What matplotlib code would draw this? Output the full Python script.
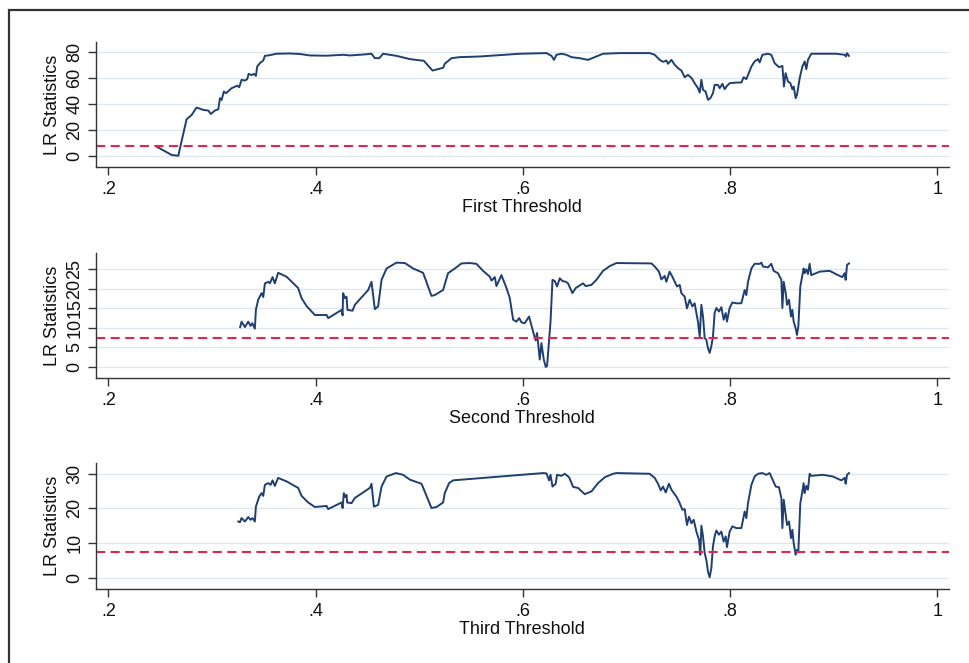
import matplotlib
matplotlib.use("Agg")
import matplotlib.pyplot as plt
from matplotlib.patches import Rectangle

plt.rcParams["font.family"] = ["Liberation Sans", "DejaVu Sans"]

# LR statistic for each candidate threshold
x1 = [0.2465, 0.261, 0.2674, 0.2754, 0.2803, 0.285, 0.2915, 0.2963, 0.2989, 0.3027,
      0.306, 0.3076, 0.3092, 0.3114, 0.3134, 0.3188, 0.3243, 0.3262, 0.3285, 0.3317,
      0.3339, 0.3353, 0.3382, 0.3404, 0.3423, 0.3436, 0.3462, 0.3494, 0.351, 0.3542,
      0.3575, 0.3623, 0.3751, 0.3848, 0.3944, 0.4105, 0.4265, 0.433, 0.4458, 0.4539,
      0.4571, 0.4613, 0.4651, 0.478, 0.4909, 0.5044, 0.5128, 0.523, 0.5246, 0.5311,
      0.5391, 0.5584, 0.578, 0.597, 0.6228, 0.6276, 0.6301, 0.6324, 0.6372, 0.642,
      0.6469, 0.6549, 0.6629, 0.6694, 0.6774, 0.6935, 0.7224, 0.7273, 0.7321, 0.7353,
      0.7386, 0.7401, 0.7434, 0.7466, 0.7498, 0.753, 0.7562, 0.7594, 0.763, 0.7658,
      0.769, 0.7707, 0.7723, 0.7739, 0.7764, 0.7787, 0.781, 0.7835, 0.7851, 0.7883,
      0.79, 0.7926, 0.7948, 0.797, 0.7996, 0.8061, 0.8109, 0.8131, 0.8157, 0.8206,
      0.8237, 0.827, 0.8286, 0.8312, 0.8366, 0.8398, 0.843, 0.8472, 0.8505, 0.852,
      0.8536, 0.8559, 0.8582, 0.8601, 0.8614, 0.8633, 0.8646, 0.8672, 0.8698, 0.872,
      0.8736, 0.8752, 0.8784, 0.9026, 0.9106, 0.9118, 0.9129, 0.9147]
y1 = [7.2, 0.8, 0.2, 28.2, 31.5, 37.2, 35.4, 34.9, 32.3, 34.9,
      35.9, 44.4, 43.0, 49.5, 48.2, 52.0, 54.0, 52.8, 58.5, 57.9,
      59.0, 63.1, 62.1, 63.1, 61.5, 68.7, 71.3, 73.3, 76.9, 77.2,
      77.7, 78.5, 78.7, 78.3, 77.2, 77.0, 77.7, 77.2, 77.9, 78.5,
      75.1, 75.1, 78.5, 76.9, 74.4, 73.1, 65.6, 67.7, 70.8, 75.1,
      75.9, 76.4, 77.5, 78.5, 79.0, 76.9, 73.8, 77.7, 78.5, 77.7,
      75.9, 75.1, 73.8, 75.9, 78.5, 79.0, 79.0, 77.7, 73.8, 72.3,
      73.3, 70.8, 73.8, 70.0, 67.4, 65.6, 60.5, 62.3, 59.7, 55.9,
      52.1, 48.7, 58.5, 50.8, 49.5, 43.1, 44.4, 48.2, 54.6, 54.6,
      52.1, 55.4, 51.3, 53.8, 55.9, 56.4, 56.4, 60.5, 59.0, 68.7,
      72.6, 74.4, 71.8, 77.7, 78.5, 77.7, 71.3, 68.2, 69.2, 53.3,
      63.6, 57.2, 55.9, 51.3, 53.3, 44.4, 46.9, 59.7, 68.7, 72.6,
      66.7, 73.8, 78.5, 78.5, 77.7, 76.4, 79.0, 76.9]

x2 = [0.3271, 0.3285, 0.3317, 0.3349, 0.3372, 0.3388, 0.3413, 0.3423, 0.3445, 0.3478,
      0.3494, 0.351, 0.3542, 0.3558, 0.3584, 0.3606, 0.3638, 0.3719, 0.3831, 0.3864,
      0.3912, 0.3992, 0.4105, 0.4121, 0.425, 0.426, 0.4265, 0.4282, 0.4298, 0.4307,
      0.4356, 0.4378, 0.4507, 0.4539, 0.4571, 0.4603, 0.4636, 0.4684, 0.478, 0.4861,
      0.4941, 0.5037, 0.5118, 0.5150, 0.523, 0.5278, 0.5343, 0.5408, 0.5488, 0.5552,
      0.5616, 0.5681, 0.5697, 0.5729, 0.5745, 0.5793, 0.5842, 0.5874, 0.5906, 0.5938,
      0.5964, 0.5987, 0.6018, 0.606, 0.6098, 0.6124, 0.6137, 0.6163, 0.6179, 0.6202,
      0.6221, 0.6234, 0.626, 0.6267, 0.6286, 0.6308, 0.633, 0.6356, 0.6382, 0.6414,
      0.6436, 0.6478, 0.651, 0.6581, 0.6607, 0.6662, 0.671, 0.6774, 0.6838, 0.6903,
      0.7241, 0.7273, 0.7314, 0.7337, 0.7369, 0.7385, 0.7417, 0.7443, 0.7466, 0.7488,
      0.7514, 0.753, 0.7562, 0.7584, 0.761, 0.7636, 0.7658, 0.769, 0.7707, 0.7723,
      0.7739, 0.7755, 0.7771, 0.7787, 0.7803, 0.7819, 0.7835, 0.7851, 0.7868, 0.7893,
      0.7916, 0.7938, 0.7958, 0.797, 0.7996, 0.8022, 0.8061, 0.8109, 0.8125, 0.8141,
      0.8157, 0.8173, 0.8206, 0.8237, 0.8286, 0.8302, 0.8318, 0.8366, 0.8398, 0.8421,
      0.8462, 0.8495, 0.8505, 0.8518, 0.8537, 0.855, 0.8569, 0.8588, 0.8601, 0.8614,
      0.8633, 0.8646, 0.8659, 0.8678, 0.8698, 0.871, 0.872, 0.8736, 0.8752, 0.8768,
      0.8784, 0.8865, 0.8961, 0.9058, 0.9084, 0.9106, 0.9116, 0.9129, 0.9148]
y2 = [10.2, 11.6, 10.2, 11.6, 10.5, 11.2, 9.8, 14.6, 17.2, 18.9,
      17.9, 21.4, 21.8, 21.4, 23.0, 21.4, 24.1, 23.1, 20.2, 17.6,
      15.6, 13.3, 13.3, 12.5, 14.6, 13.2, 18.9, 17.6, 18.0, 14.6,
      14.4, 15.9, 19.7, 21.8, 14.8, 15.5, 22.3, 25.2, 26.7, 26.6,
      25.2, 24.1, 18.2, 18.4, 19.7, 24.0, 25.2, 26.5, 26.6, 26.4,
      24.6, 23.1, 22.1, 23.0, 20.7, 23.5, 20.2, 17.6, 12.1, 11.6,
      12.5, 11.4, 11.2, 12.9, 9.1, 6.8, 8.7, 1.9, 6.1, 1.9,
      0.0, 0.3, 9.5, 11.6, 22.3, 22.0, 20.6, 22.7, 22.0, 21.8,
      21.4, 18.9, 20.2, 21.4, 20.7, 21.0, 22.3, 24.6, 25.8, 26.6,
      26.5, 25.7, 24.4, 22.4, 23.3, 21.8, 24.4, 23.1, 21.8, 20.6,
      21.0, 18.9, 18.0, 15.0, 17.2, 15.5, 16.3, 11.6, 7.7, 15.9,
      12.9, 7.4, 7.0, 4.8, 3.6, 5.3, 7.8, 13.8, 15.1, 14.2,
      15.3, 12.1, 13.8, 11.6, 15.1, 16.5, 16.3, 16.3, 18.0, 19.7,
      18.4, 21.8, 25.2, 26.4, 26.4, 26.7, 25.7, 25.5, 26.4, 24.6,
      24.0, 22.3, 15.1, 21.8, 18.9, 15.9, 17.2, 12.9, 14.6, 11.6,
      9.9, 8.2, 10.4, 20.6, 23.5, 25.2, 24.0, 25.0, 23.8, 26.4,
      23.5, 24.4, 24.6, 23.3, 23.0, 24.0, 22.3, 26.1, 26.5]

x3 = [0.3253, 0.3269, 0.3285, 0.3317, 0.3349, 0.3372, 0.3391, 0.3413, 0.3423, 0.3455,
      0.3478, 0.3494, 0.351, 0.3542, 0.3565, 0.3584, 0.3606, 0.3638, 0.3719, 0.3831,
      0.3864, 0.3928, 0.3992, 0.4105, 0.4121, 0.425, 0.426, 0.4272, 0.4285, 0.4298,
      0.4304, 0.4346, 0.4378, 0.4523, 0.4539, 0.4562, 0.4603, 0.4636, 0.4684, 0.4774,
      0.4844, 0.4909, 0.5022, 0.5118, 0.5167, 0.523, 0.5246, 0.5288, 0.5327, 0.6195,
      0.6228, 0.6253, 0.6267, 0.6286, 0.6317, 0.633, 0.6372, 0.6404, 0.6446, 0.6485,
      0.6533, 0.6597, 0.6662, 0.6726, 0.6791, 0.6871, 0.6903, 0.7224, 0.7273, 0.7305,
      0.7331, 0.7353, 0.7379, 0.741, 0.7434, 0.7482, 0.7507, 0.754, 0.7562, 0.7584,
      0.7604, 0.7627, 0.7649, 0.7675, 0.77, 0.7713, 0.7723, 0.7739, 0.7755, 0.7771,
      0.7787, 0.7803, 0.7819, 0.7835, 0.7851, 0.7868, 0.7893, 0.7916, 0.7938, 0.7958,
      0.797, 0.7996, 0.8022, 0.8061, 0.8109, 0.8125, 0.8141, 0.8157, 0.8173, 0.8206,
      0.8237, 0.827, 0.8312, 0.835, 0.8382, 0.8408, 0.844, 0.8472, 0.8495, 0.8505,
      0.8518, 0.8537, 0.855, 0.8569, 0.8588, 0.8601, 0.8614, 0.8633, 0.8646, 0.8659,
      0.8678, 0.8698, 0.871, 0.872, 0.8736, 0.8752, 0.8768, 0.8784, 0.8896, 0.8993,
      0.9074, 0.9106, 0.9116, 0.9129, 0.9148]
y3 = [16.2, 16.0, 17.2, 16.2, 17.5, 16.7, 17.2, 16.2, 20.5, 23.4,
      24.4, 23.6, 26.8, 27.3, 26.8, 28.1, 26.5, 28.8, 27.8, 25.9,
      23.6, 21.7, 20.4, 20.7, 19.8, 21.7, 20.1, 24.4, 23.3, 23.9,
      21.7, 21.5, 23.0, 25.9, 27.1, 20.5, 21.0, 26.3, 29.2, 30.2,
      29.7, 28.3, 27.1, 20.1, 20.4, 21.7, 24.4, 27.3, 28.1, 30.2,
      30.1, 28.1, 29.7, 26.3, 27.1, 29.7, 29.4, 30.0, 29.0, 26.2,
      25.9, 24.1, 24.9, 27.3, 29.0, 30.0, 30.2, 30.0, 28.8, 27.1,
      25.2, 26.3, 24.6, 27.1, 25.4, 23.4, 22.0, 19.6, 19.8, 15.2,
      17.6, 15.7, 16.7, 13.3, 10.9, 6.6, 15.0, 11.9, 7.1, 5.1,
      1.7, 0.1, 2.7, 9.0, 11.9, 13.6, 12.4, 13.3, 10.4, 11.9,
      8.8, 13.3, 14.8, 14.3, 14.3, 16.7, 19.1, 17.2, 21.5, 26.8,
      29.2, 30.0, 30.2, 29.7, 30.2, 28.5, 26.3, 26.1, 23.0, 14.3,
      22.5, 18.1, 15.2, 16.2, 11.4, 13.8, 10.0, 6.6, 8.0, 7.5,
      21.5, 24.9, 27.3, 24.4, 26.5, 25.4, 30.0, 29.4, 29.7, 29.2,
      28.1, 28.8, 27.1, 29.7, 30.2]

crit = 7.35
x_ticks = [0.2, 0.4, 0.6, 0.8, 1.0]
x_tick_labels = [".2", ".4", ".6", ".8", "1"]
panels = [
    (x1, y1, [0, 20, 40, 60, 80], (-8.5, 87.7), "First Threshold", [0.099, 0.748, 0.879, 0.189]),
    (x2, y2, [0, 5, 10, 15, 20, 25], (-2.8, 29.1), "Second Threshold", [0.099, 0.430, 0.879, 0.188]),
    (x3, y3, [0, 10, 20, 30], (-3.3, 33.1), "Third Threshold", [0.099, 0.1116, 0.879, 0.190]),
]

fig = plt.figure(figsize=(9.7, 6.63), dpi=100)
fig.patches.append(Rectangle((9 / 970, -0.05), 1.2, 0.05 + 653 / 663, transform=fig.transFigure,
                             fill=False, edgecolor="#333333", linewidth=1.6, clip_on=False))

for xs, ys, yt, ylim, xlabel, pos in panels:
    ax = fig.add_axes(pos)
    ax.plot(xs, ys, color="#1f3f70", linewidth=1.4)
    ax.axhline(crit, color="#e0284f", linewidth=1.5, linestyle=(0, (4.4, 2.6)))
    ax.set_xlim(0.188, 1.011)
    ax.set_ylim(*ylim)
    ax.set_xticks(x_ticks)
    ax.set_xticklabels(x_tick_labels)
    ax.set_yticks(yt)
    ax.set_yticklabels([str(v) for v in yt], rotation=90, va="center")
    ax.grid(axis="y", color="#dde5ef", linewidth=0.9)
    ax.set_axisbelow(True)
    for side in ("top", "right"):
        ax.spines[side].set_visible(False)
    for side in ("left", "bottom"):
        ax.spines[side].set_color("#333333")
        ax.spines[side].set_linewidth(1.0)
    ax.tick_params(direction="out", length=6, width=1.0, color="#333333",
                   labelsize=13, labelcolor="#111111")
    ax.tick_params(axis="y", pad=3)
    ax.tick_params(axis="x", pad=4)
    ax.set_ylabel("LR Statistics", fontsize=13, labelpad=4, color="#111111")
    ax.set_xlabel(xlabel, fontsize=13, labelpad=1, color="#111111")

fig.savefig("out.png", dpi=100, facecolor="white")
